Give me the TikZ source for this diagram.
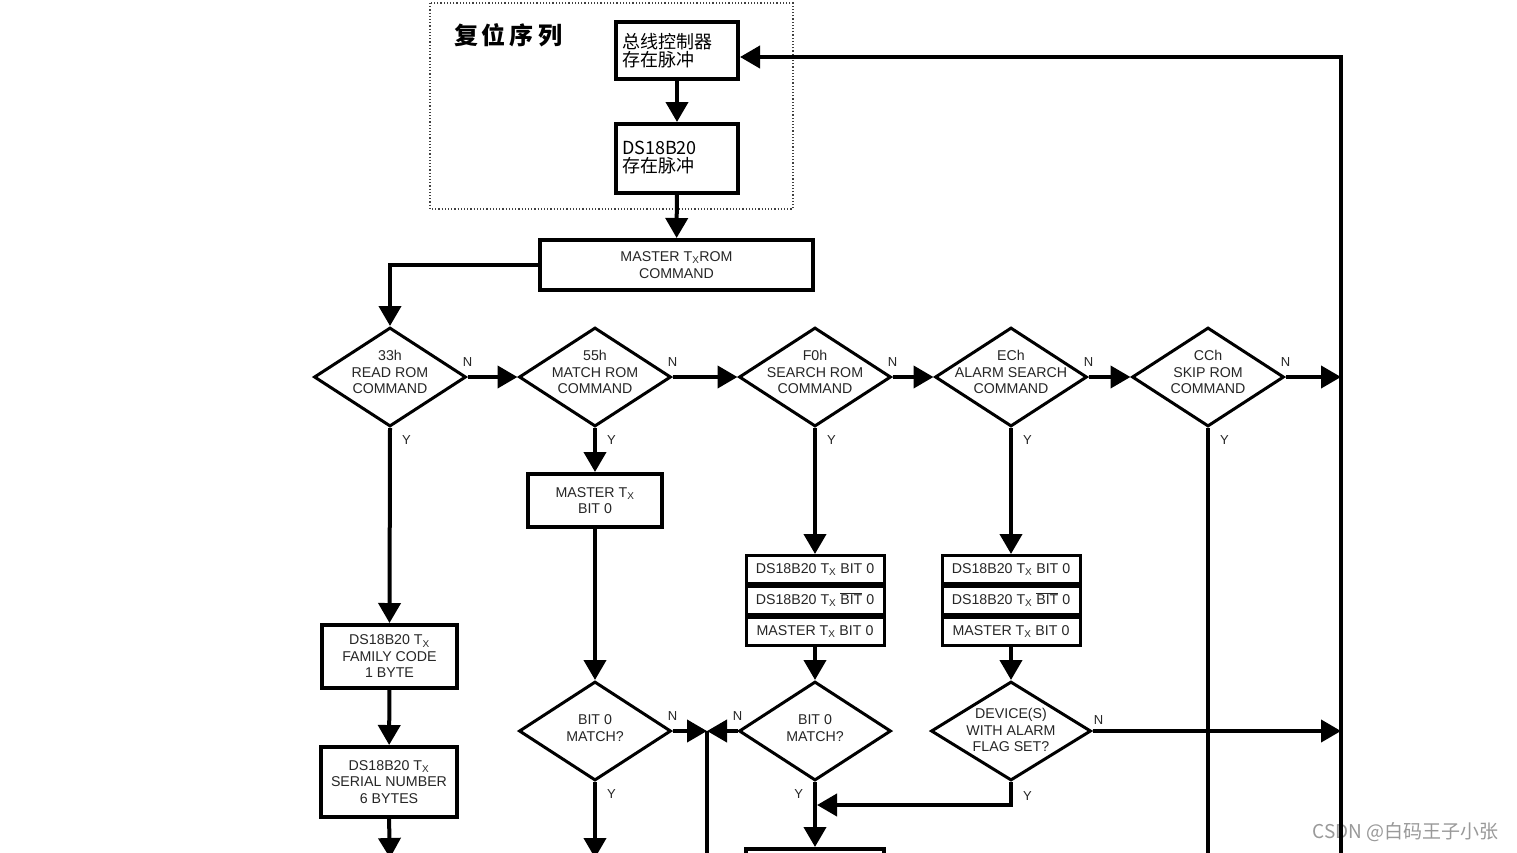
\documentclass[tikz,border=0pt]{standalone}
\usepackage{fontspec}
\setmainfont{Liberation Sans}
\newfontfamily\cjk{Noto Sans CJK SC}
\usetikzlibrary{arrows.meta,positioning,shapes.geometric}
\newcommand{\flowfont}{\fontsize{14.2}{16.5}\selectfont}
\newcommand{\labfont}{\fontsize{13}{15}\selectfont}
\newcommand{\TX}{T\textsubscript{X}}
\newcommand{\nbit}{$\overline{\mbox{BIT}}$}

\begin{document}
\begin{tikzpicture}[
  x=1pt, y=-1pt,
  box/.style={draw, line width=4pt, align=center, inner sep=0pt, font=\flowfont, text=black!85},
  cnbox/.style={draw, line width=4pt, align=left, text width=110pt, inner xsep=6pt, minimum width=122pt, font=\cjk\fontsize{18}{18}\selectfont},
  dia/.style={draw, diamond, line width=3pt, inner sep=0pt, minimum width=152pt, minimum height=99pt},
  dtext/.style={align=center, font=\flowfont, text=black!85, yshift=5pt},
  row/.style={draw, line width=3pt, minimum width=138pt, minimum height=28pt, text height=10pt, text depth=3pt, inner sep=0pt, font=\flowfont, text=black!85},
  lab/.style={font=\labfont, text=black!85, inner sep=0pt},
  nlab/.style={lab, anchor=south, yshift=9pt},
  ylab/.style={lab, anchor=north west, xshift=10pt, yshift=-6pt},
  yleft/.style={lab, anchor=north east, xshift=-10pt, yshift=-6pt},
  wire/.style={line width=4pt},
  arr/.style={line width=4pt, -{Triangle[length=20pt, width=22pt]}}
]
\useasboundingbox[fill=white] (0,0) rectangle (1517,852);

\draw[dotted, line width=1.2pt, black!75] (430,3) rectangle (793,209);
\node[font=\cjk\bfseries\fontsize{24}{26}\selectfont] (title) at (508,35) {复\,位\,序\,列};
\node[cnbox, minimum height=57pt] (mpres) at (677,50.5) {总线控制器\\存在脉冲};
\node[cnbox, minimum height=69pt, text depth=22pt] (dspres) at (677,158.5) {DS18B20\\存在脉冲};
\node[box, minimum width=273pt, minimum height=50pt] (romcmd) at (676.5,265) {MASTER \TX{}ROM\\COMMAND};

\node[dia, label={[dtext]center:33h\\READ ROM\\COMMAND}] (readrom) at (390,377) {};
\node[dia, label={[dtext]center:55h\\MATCH ROM\\COMMAND}] (matchrom) at (595,377) {};
\node[dia, label={[dtext]center:F0h\\SEARCH ROM\\COMMAND}] (searchrom) at (815,377) {};
\node[dia, label={[dtext]center:ECh\\ALARM SEARCH\\COMMAND}] (alarmsrch) at (1011,377) {};
\node[dia, label={[dtext]center:CCh\\SKIP ROM\\COMMAND}] (skiprom) at (1208,377) {};

\node[box, minimum width=135pt, minimum height=63pt] (family) at (389.5,656.5) {DS18B20 \TX\\FAMILY CODE\\1 BYTE};
\node[box, minimum width=136pt, minimum height=70pt] (serial) at (389,782) {DS18B20 \TX\\SERIAL NUMBER\\6 BYTES};
\node[box, minimum width=134pt, minimum height=53pt] (mtxbit) at (595,500.5) {MASTER \TX\\BIT 0};

\node[row] (sa) at (815,569.5) {DS18B20 \TX\ BIT 0};
\node[row, below=0pt of sa] (sb) {DS18B20 \TX\ \nbit\ 0};
\node[row, below=0pt of sb] (sc) {MASTER \TX\ BIT 0};
\node[row] (aa) at (1011,569.5) {DS18B20 \TX\ BIT 0};
\node[row, below=0pt of aa] (ab) {DS18B20 \TX\ \nbit\ 0};
\node[row, below=0pt of ab] (ac) {MASTER \TX\ BIT 0};

\node[dia, label={[dtext, yshift=-2pt]center:BIT 0\\MATCH?}] (bitm) at (595,731) {};
\node[dia, label={[dtext, yshift=-2pt]center:BIT 0\\MATCH?}] (bits) at (815,731) {};
\node[dia, minimum width=160pt, label={[dtext, yshift=-4pt]center:DEVICE(S)\\WITH ALARM\\FLAG SET?}] (device) at (1011,731) {};
\node[box, minimum width=138pt, minimum height=60pt, anchor=north] (nextbox) at (815,847) {};

\node[font=\cjk\fontsize{19}{21}\selectfont, text=black!40, anchor=east] (mark) at (1502,832) {CSDN @白码王子小张};

\coordinate (c1end) at (390,858);
\coordinate (c2end) at (595,858);
\coordinate (jn) at (707,731);
\coordinate (jnend) at (707,860);
\coordinate (c5end) at (1208,860);
\coordinate (bustop) at (1341,57);
\coordinate (busend) at (1341,860);
\coordinate (merge) at (817,805);

\draw[arr] (mpres) -- (dspres);
\draw[arr] (dspres) -- (romcmd);
\draw[arr] (romcmd.west) -| (readrom.north);
\draw[arr] (readrom.east) -- node[nlab, at start]{N} (matchrom.west);
\draw[arr] (matchrom.east) -- node[nlab, at start]{N} (searchrom.west);
\draw[arr] (searchrom.east) -- node[nlab, at start]{N} (alarmsrch.west);
\draw[arr] (alarmsrch.east) -- node[nlab, at start]{N} (skiprom.west);
\draw[arr] (skiprom.east) -- node[nlab, at start]{N} (skiprom.east -| busend);
\draw[arr] (busend) |- (mpres.east |- bustop);

\draw[arr] (readrom.south) -- node[ylab, at start]{Y} (family.north);
\draw[arr] (family) -- (serial);
\draw[arr] (serial.south) -- (c1end);
\draw[arr] (matchrom.south) -- node[ylab, at start]{Y} (mtxbit.north);
\draw[arr] (mtxbit.south) -- (bitm.north);
\draw[arr] (bitm.south) -- node[ylab, at start]{Y} (c2end);
\draw[arr] (bitm.east) -- node[nlab, at start]{N} (jn);
\draw[arr] (bits.west) -- node[nlab, at start]{N} (jn);
\draw[wire] (jn) -- (jnend);
\draw[arr] (searchrom.south) -- node[ylab, at start]{Y} (sa.north);
\draw[arr] (sc.south) -- (bits.north);
\draw[arr] (bits.south) -- node[yleft, at start]{Y} (nextbox.north);
\draw[arr] (alarmsrch.south) -- node[ylab, at start]{Y} (aa.north);
\draw[arr] (ac.south) -- (device.north);
\draw[arr] (device.east) -- node[nlab, at start, xshift=6pt, yshift=-4pt]{N} (device.east -| busend);
\draw[arr] (device.south) |- node[ylab, at start, yshift=-2pt]{Y} (merge);
\draw[wire] (skiprom.south) -- node[ylab, at start]{Y} (c5end);
\end{tikzpicture}
\end{document}
